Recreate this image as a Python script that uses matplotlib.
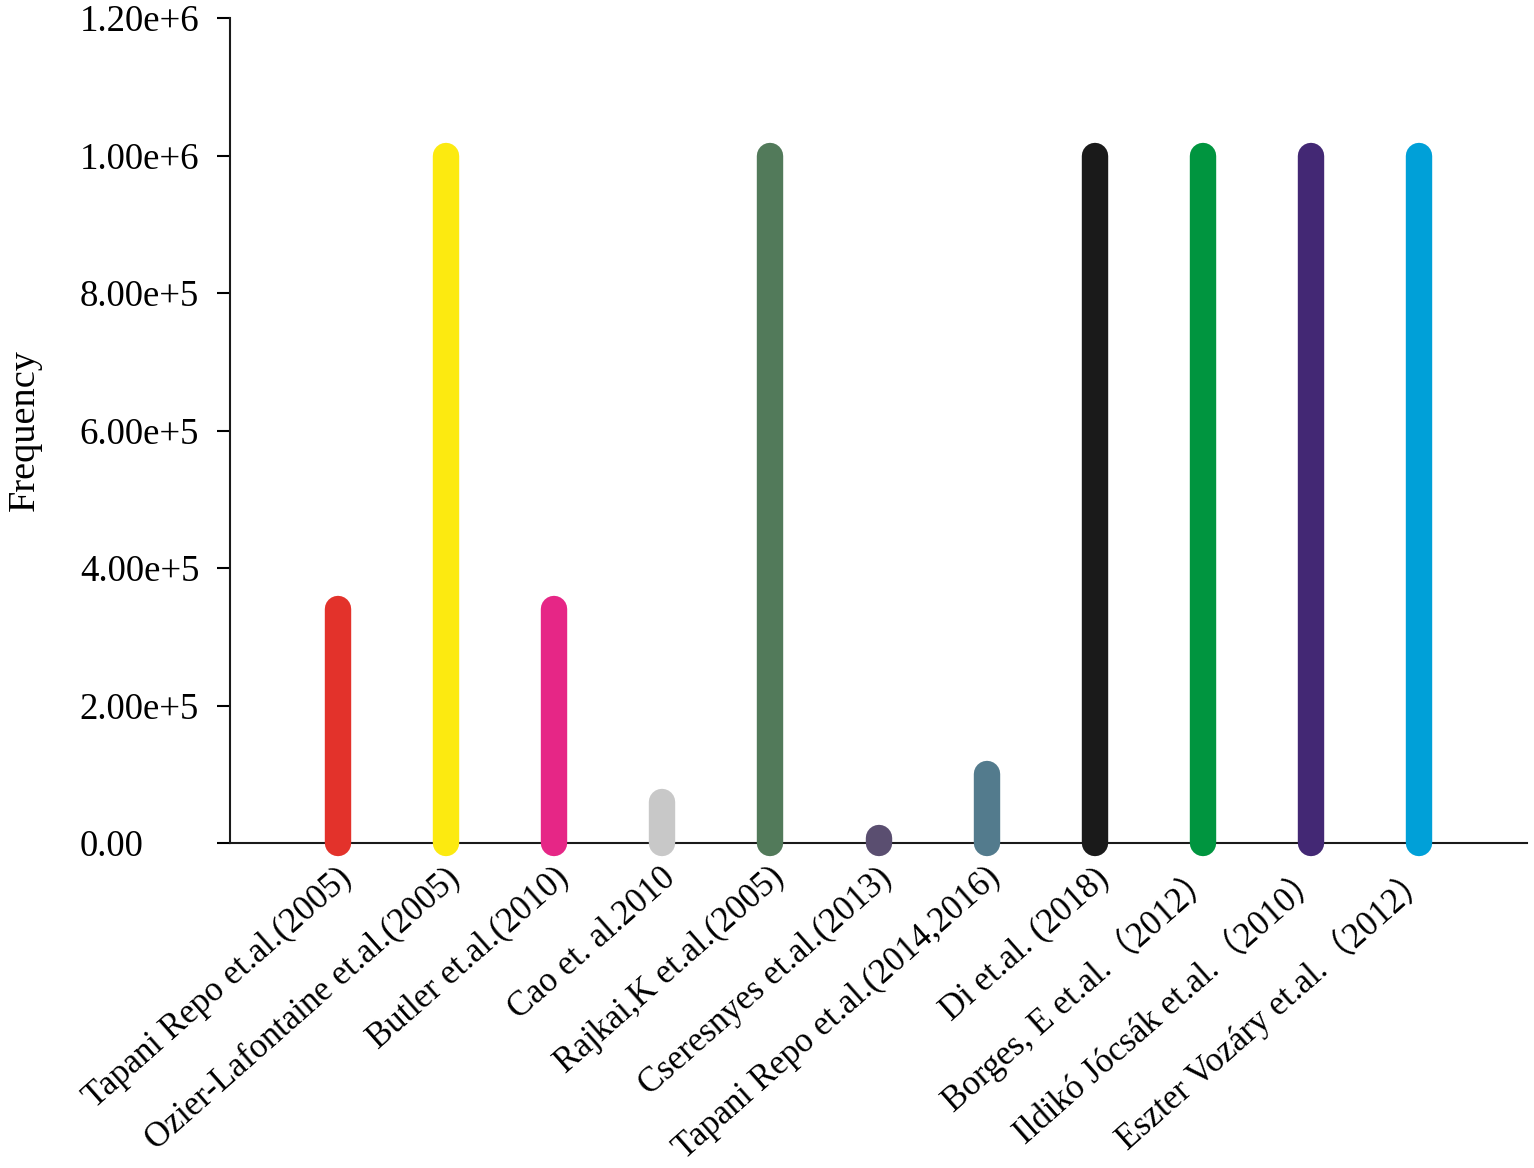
import matplotlib
matplotlib.use("Agg")
import matplotlib.pyplot as plt
import matplotlib.transforms as mtransforms

plt.rcParams['font.family'] = ['Liberation Serif', 'Noto Sans CJK SC', 'DejaVu Sans']

studies = [
    "Tapani Repo et.al.(2005)",
    "Ozier-Lafontaine et.al.(2005)",
    "Butler et.al.(2010)",
    "Cao et. al.2010",
    "Rajkai,K et.al.(2005)",
    "Cseresnyes et.al.(2013)",
    "Tapani Repo et.al.(2014,2016)",
    "Di et.al. (2018)",
    "Borges, E et.al.\uff082012\uff09",
    "Ildik\u00f3 J\u00f3cs\u00e1k et.al.\uff082010\uff09",
    "Eszter Voz\u00e1ry et.al.\uff082012\uff09",
]
frequency = [340000, 1000000, 340000, 60000, 1000000, 8000, 100000,
             1000000, 1000000, 1000000, 1000000]
colors = ["#E3322B", "#FCEA10", "#E62686", "#C8C8C8", "#527A5A", "#5A4E70",
          "#537B8D", "#1A1A1A", "#00953F", "#432874", "#00A0D8"]
yticks = [0, 200000, 400000, 600000, 800000, 1000000, 1200000]
yticklabels = ["0.00", "2.00e+5", "4.00e+5", "6.00e+5", "8.00e+5", "1.00e+6", "1.20e+6"]

fig = plt.figure(figsize=(15.34, 11.68), dpi=100)
ax = fig.add_axes([230/1534, 1 - 843/1168, (1527-230)/1534, (843-18)/1168])

x = list(range(1, len(studies) + 1))
lc = ax.vlines(x, 0, frequency, colors=colors, linewidth=19, zorder=3)
lc.set_capstyle('round')
lc.set_clip_on(False)

ax.set_xlim(0, 12)
ax.set_ylim(0, 1200000)
ax.set_yticks(yticks)
ax.set_yticklabels(yticklabels, fontsize=26.5, ha='left')
ax.set_xticks(x)
ax.set_xticklabels([])

label_tr = ax.get_xaxis_transform() + mtransforms.ScaledTranslation(
    15/100, -37/100, fig.dpi_scale_trans)
for xi, name in zip(x, studies):
    ax.text(xi, 0, name, transform=label_tr, fontsize=25, rotation=41.5,
            ha='right', va='baseline', rotation_mode='anchor', clip_on=False)

ax.tick_params(axis='y', direction='out', length=9.5, width=1.5, pad=98.6)
ax.tick_params(axis='x', direction='out', length=9.5, width=1.5)
for s in ['top', 'right']:
    ax.spines[s].set_visible(False)
for s in ['left', 'bottom']:
    ax.spines[s].set_linewidth(1.5)
    ax.spines[s].set_color('#1a1a1a')

ax.set_ylabel("Frequency", fontsize=27.5)
ax.yaxis.set_label_coords(-0.145, 0.5)

fig.savefig("out.png", dpi=100, facecolor='white')
